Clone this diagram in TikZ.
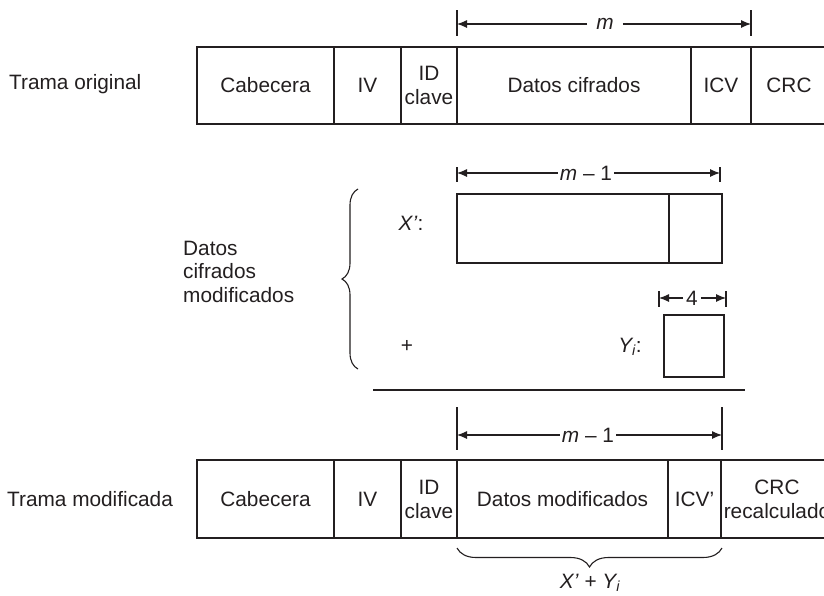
\documentclass[tikz,border=0pt]{standalone}
\usepackage{fontspec}
\setmainfont{Liberation Sans}
\usetikzlibrary{arrows.meta,decorations.pathreplacing}
\definecolor{ink}{RGB}{35,31,32}
\begin{document}
\begin{tikzpicture}[x=1pt,y=-1pt,
  every node/.style={font=\fontsize{20.8}{24}\selectfont, text=ink, inner sep=0pt},
  cell/.style={draw=ink, line width=1.2pt, rectangle, minimum height=77pt},
  ln/.style={draw=ink, line width=1.1pt},
  dimarrow/.style={ln, -{Latex[length=10pt,width=8pt]}},
  brc/.style={ln, decorate},
  lbl/.style={anchor=west, align=left}]
\useasboundingbox (0,0) rectangle (824,595);
\clip (0,0) rectangle (824,595);
\fill[white] (0,0) rectangle (824,595);

% ---------- Trama original ----------
\node[lbl] (torig) at (9,84) {Trama original};
\node[cell, minimum width=137pt] (tc1) at (265.5,85.5) {Cabecera};
\node[cell, minimum width=67pt] (tc2) at (367.5,85.5) {IV};
\node[cell, minimum width=56pt, align=center] (tc3) at (429,85.5) {ID\\clave};
\node[cell, minimum width=234pt] (tc4) at (574,85.5) {Datos cifrados};
\node[cell, minimum width=60pt] (tc5) at (721,85.5) {ICV};
\node[cell, minimum width=76pt] (tc6) at (789,85.5) {CRC};

% m dimension
\coordinate (mTa) at (457,10); \coordinate (mTb) at (457,36);
\coordinate (mUa) at (751,10); \coordinate (mUb) at (751,36);
\coordinate (mL) at (457,24); \coordinate (mR) at (751,24);
\draw[ln] (mTa) -- (mTb);
\draw[ln] (mUa) -- (mUb);
\node[inner xsep=9pt] (mt) at (605,24) {\textit{m}};
\draw[dimarrow] (mt.west) -- (mL);
\draw[dimarrow] (mt.east) -- (mR);

% ---------- Datos cifrados modificados ----------
\node[lbl, font=\fontsize{20.8}{23.5}\selectfont] (dcm) at (183,271.5) {Datos\\cifrados\\modificados};
\draw[brc, decoration={brace, amplitude=16pt}] (358,369) -- (358,189);

% m-1 dimension (middle)
\coordinate (m2Ta) at (457,167); \coordinate (m2Tb) at (457,182);
\coordinate (m2Ua) at (720,167); \coordinate (m2Ub) at (720,182);
\coordinate (m2L) at (457,173); \coordinate (m2R) at (720,173);
\draw[ln] (m2Ta) -- (m2Tb);
\draw[ln] (m2Ua) -- (m2Ub);
\node[inner xsep=2pt] (m2t) at (586,173) {\textit{m} – 1};
\draw[dimarrow] (m2t.west) -- (m2L);
\draw[dimarrow] (m2t.east) -- (m2R);

\node (xlab) at (411,223) {\textit{X’}:};
\node[cell, minimum width=212pt, minimum height=69pt] (xa) at (563,228.5) {};
\node[cell, minimum width=53pt, minimum height=69pt] (xb) at (695.5,228.5) {};

% 4 dimension
\coordinate (fTa) at (659,291); \coordinate (fTb) at (659,307);
\coordinate (fUa) at (726,291); \coordinate (fUb) at (726,307);
\coordinate (fL) at (659,298); \coordinate (fR) at (726,298);
\draw[ln] (fTa) -- (fTb);
\draw[ln] (fUa) -- (fUb);
\node[inner xsep=3pt] (ft) at (692,298) {4};
\draw[dimarrow] (ft.west) -- (fL);
\draw[dimarrow] (ft.east) -- (fR);

\node (plus) at (407,346) {+};
\node (ylab) at (630,347) {\textit{Y\textsubscript{i}}:};
\node[cell, minimum width=60pt, minimum height=62pt] (yb) at (694,346) {};

\coordinate (sumL) at (373,390); \coordinate (sumR) at (745,390);
\draw[ln] (sumL) -- (sumR);

% m-1 dimension (bottom)
\coordinate (m3Ta) at (457,407); \coordinate (m3Tb) at (457,450);
\coordinate (m3Ua) at (722,407); \coordinate (m3Ub) at (722,450);
\coordinate (m3L) at (457,435); \coordinate (m3R) at (722,435);
\draw[ln] (m3Ta) -- (m3Tb);
\draw[ln] (m3Ua) -- (m3Ub);
\node[inner xsep=2pt] (m3t) at (588,435) {\textit{m} – 1};
\draw[dimarrow] (m3t.west) -- (m3L);
\draw[dimarrow] (m3t.east) -- (m3R);

% ---------- Trama modificada ----------
\node[lbl] (tmod) at (7,499) {Trama modificada};
\node[cell, minimum width=137pt, minimum height=78pt] (bc1) at (265.5,499) {Cabecera};
\node[cell, minimum width=67pt, minimum height=78pt] (bc2) at (367.5,499) {IV};
\node[cell, minimum width=56pt, minimum height=78pt, align=center] (bc3) at (429,499) {ID\\clave};
\node[cell, minimum width=211pt, minimum height=78pt] (bc4) at (562.5,499) {Datos modificados};
\node[cell, minimum width=53pt, minimum height=78pt] (bc5) at (694.5,499) {ICV’};
\node[cell, minimum width=112pt, minimum height=78pt, align=center] (bc6) at (777,499) {CRC\\recalculado};

\draw[brc, decoration={brace, amplitude=19pt}] (722,548) -- (457,548);
\node (xy) at (590,583) {\textit{X’} + \textit{Y\textsubscript{i}}};
\end{tikzpicture}
\end{document}
